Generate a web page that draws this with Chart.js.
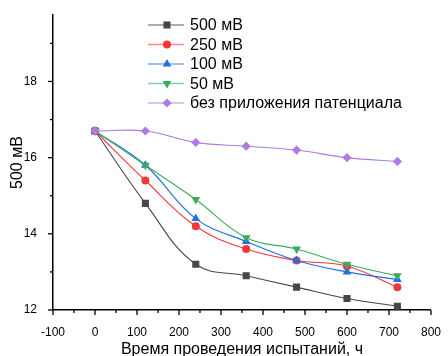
<!DOCTYPE html>
<html>
<head>
<meta charset="utf-8">
<script src="https://cdn.jsdelivr.net/npm/chart.js@4"></script>
<style>
  html, body { margin: 0; padding: 0; background: #fff; }
  #wrap { width: 448px; height: 356px; }
</style>
</head>
<body>
<div id="wrap"><canvas id="chart" width="448" height="356"></canvas></div>
<script>
// data
const hours = [0, 120, 240, 360, 480, 600, 720];
const s500 = [16.7, 14.8, 13.2, 12.9, 12.6, 12.3, 12.1];
const s250 = [16.7, 15.4, 14.2, 13.6, 13.3, 13.15, 12.6];
const s100 = [16.7, 15.8, 14.4, 13.8, 13.3, 13.0, 12.8];
const s50 = [16.7, 15.8, 14.9, 13.9, 13.6, 13.2, 12.9];
const sNone = [16.7, 16.7, 16.4, 16.3, 16.2, 16.0, 15.9];
const seriesNames = ['500 мВ', '250 мВ', '100 мВ', '50 мВ', 'без приложения патенциала'];
const yTicks = [12, 13, 14, 15, 16, 17, 18, 19];
const xTicks = [-100, -50, 0, 50, 100, 150, 200, 250, 300, 350, 400, 450, 500, 550, 600, 650, 700, 750, 800];

const FONT = 'Liberation Sans, Arial, sans-serif';

const styles = [
  { color: '#474747', point: 'rect', radius: 5, rot: 0 },
  { color: '#f03a3a', point: 'circle', radius: 4, rot: 0 },
  { color: '#1f6fe6', point: 'triangle', radius: 5, rot: 0 },
  { color: '#3bab5e', point: 'triangle', radius: 5, rot: 180 },
  { color: '#b07be0', point: 'rectRot', radius: 4.6, rot: 0 }
];
const allSeries = [s500, s250, s100, s50, sNone];

const datasets = allSeries.map((vals, i) => ({
  label: seriesNames[i],
  data: hours.map((h, j) => ({ x: h, y: vals[j] })),
  borderColor: styles[i].color,
  backgroundColor: styles[i].color,
  borderWidth: 1.1,
  pointStyle: styles[i].point,
  pointRadius: styles[i].radius,
  pointRotation: styles[i].rot,
  pointBorderWidth: 0,
  tension: 0.4
}));
// draw purple first so the others sit on top at the start point
datasets.reverse();

// axis ticks (major + minor) and custom legend
const decor = {
  id: 'decor',
  afterDraw(chart) {
    const ctx = chart.ctx;
    const xs = chart.scales.x, ys = chart.scales.y;
    const area = chart.chartArea;
    ctx.save();
    ctx.strokeStyle = '#000';
    ctx.lineWidth = 1.3;
    xTicks.forEach(v => {
      const px = xs.getPixelForValue(v);
      const len = v % 100 === 0 ? 5 : 3;
      ctx.beginPath();
      ctx.moveTo(px, area.bottom);
      ctx.lineTo(px, area.bottom + len);
      ctx.stroke();
    });
    yTicks.forEach(v => {
      const py = ys.getPixelForValue(v);
      const len = v % 2 === 0 ? 5 : 3;
      ctx.beginPath();
      ctx.moveTo(area.left, py);
      ctx.lineTo(area.left - len, py);
      ctx.stroke();
    });
    // legend
    const lx = 148, ly = 25, step = 19.5;
    seriesNames.forEach((name, i) => {
      const y = ly + i * step;
      const st = styles[i];
      ctx.strokeStyle = st.color;
      ctx.globalAlpha = 0.6;
      ctx.lineWidth = 1.5;
      ctx.beginPath();
      ctx.moveTo(lx, y);
      ctx.lineTo(lx + 36, y);
      ctx.stroke();
      ctx.globalAlpha = 1;
      ctx.fillStyle = st.color;
      Chart.helpers.drawPoint(ctx, { pointStyle: st.point, radius: st.radius, rotation: st.rot, borderWidth: 0 }, lx + 19, y);
      ctx.fillStyle = '#000';
      ctx.font = '16px ' + FONT;
      ctx.textBaseline = 'middle';
      ctx.fillText(name, lx + 42, y + 1);
    });
    ctx.restore();
  }
};

new Chart(document.getElementById('chart'), {
  type: 'line',
  data: { datasets: datasets },
  options: {
    responsive: false,
    animation: false,
    layout: { padding: { top: 12, right: 13, left: 0, bottom: 0 } },
    plugins: { legend: { display: false }, tooltip: { enabled: false } },
    scales: {
      x: {
        type: 'linear',
        min: -100,
        max: 800,
        afterBuildTicks: s => { s.ticks = xTicks.filter(v => v % 100 === 0).map(v => ({ value: v })); },
        afterFit: s => { s.height = 46; },
        grid: { display: false },
        border: { display: true, color: '#000', width: 1.5 },
        ticks: { color: '#000', font: { family: FONT, size: 12 }, padding: 7, maxRotation: 0 },
        title: { display: true, text: 'Время проведения испытаний, ч', color: '#000', font: { family: FONT, size: 16 }, padding: { top: 4, bottom: -3 } }
      },
      y: {
        min: 12,
        max: 19.74,
        afterBuildTicks: s => { s.ticks = yTicks.filter(v => v % 2 === 0).map(v => ({ value: v })); },
        afterFit: s => { s.width = 53; },
        grid: { display: false },
        border: { display: true, color: '#000', width: 1.5 },
        ticks: { color: '#000', font: { family: FONT, size: 12 }, padding: 8 },
        title: { display: true, text: '500 мВ', color: '#000', font: { family: FONT, size: 16 }, padding: { top: 8, bottom: 2 } }
      }
    }
  },
  plugins: [decor]
});
</script>
</body>
</html>
